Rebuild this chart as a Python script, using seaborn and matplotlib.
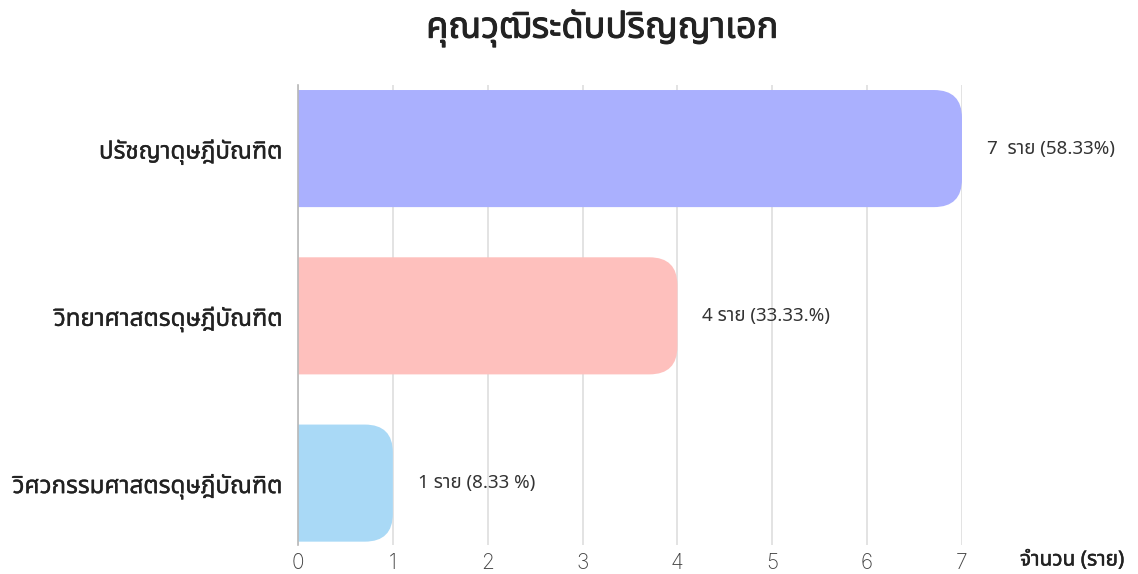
import matplotlib
matplotlib.use("Agg")
import matplotlib.pyplot as plt
from matplotlib import font_manager
from matplotlib.patches import FancyBboxPatch
import matplotlib.patheffects as pe
import seaborn as sns
import pandas as pd

# --- data -------------------------------------------------------------
categories = ["ปรัชญาดุษฎีบัณฑิต", "วิทยาศาสตรดุษฎีบัณฑิต", "วิศวกรรมศาสตรดุษฎีบัณฑิต"]
counts = [7, 4, 1]
value_labels = ["7  ราย (58.33%)", "4 ราย (33.33.%)", "1 ราย (8.33 %)"]
x_ticks = [0, 1, 2, 3, 4, 5, 6, 7]
title = "คุณวุฒิระดับปริญญาเอก"
x_label = "จำนวน (ราย)"
bar_colors = ["#aab0fe", "#fec0bd", "#a9d9f6"]


def thai_families():
    """Return installed family names that cover Thai script."""
    found = []
    try:
        from fontTools.ttLib import TTFont
    except Exception:
        return found
    for entry in font_manager.fontManager.ttflist:
        if entry.name in found:
            continue
        try:
            tt = TTFont(entry.fname, fontNumber=0, lazy=True)
            cmap = tt.getBestCmap() or {}
            if 0x0E01 in cmap and 0x0E34 in cmap:
                found.append(entry.name)
        except Exception:
            pass
    return found


sns.set_theme(style="white")
thai = thai_families()
pref = [f for f in ["Noto Sans Thai", "Noto Sans Thai UI", "Noto Sans Thai Looped"] if f in thai]
others = [f for f in thai if f not in pref]
families = pref + others + ["Inter", "DejaVu Sans"]
plt.rcParams["font.family"] = families

# faux-bold stroke for the heavier Thai text
def heavy(width, color="#222222"):
    return [pe.withStroke(linewidth=width, foreground=color)]

df = pd.DataFrame({"category": categories, "count": counts})

fig = plt.figure(figsize=(11.38, 5.74), dpi=100)
ax = fig.add_axes([298 / 1138, 1 - 545 / 574, (962 - 298) / 1138, (545 - 85) / 574])

sns.barplot(data=df, y="category", x="count", hue="category", palette=bar_colors,
            legend=False, width=0.70, orient="h", ax=ax, saturation=1)

ax.set_xlim(0, 7)
ax.set_ylim(2.37, -0.38)

# Rebuild each bar with rounded right-hand corners
fig_w, fig_h = fig.get_size_inches() * fig.dpi
pos = ax.get_position()
px_per_x = pos.width * fig_w / 7.0
px_per_y = pos.height * fig_h / (2.37 + 0.38)
radius_px = 28
rx = radius_px / px_per_x
aspect = px_per_x / px_per_y
for patch, color in zip(list(ax.patches), bar_colors):
    x0, y0 = patch.get_x(), patch.get_y()
    w, h = patch.get_width(), patch.get_height()
    patch.remove()
    rounded = FancyBboxPatch((x0 - rx, y0), w + rx, h,
                             boxstyle=f"round,pad=0,rounding_size={rx}",
                             mutation_aspect=aspect, facecolor=color,
                             edgecolor="none", zorder=2)
    ax.add_patch(rounded)

# grid and axis styling
ax.set_axisbelow(True)
ax.xaxis.grid(True, color="#dedede", linewidth=1.2)
ax.yaxis.grid(False)
for side in ["top", "right", "bottom"]:
    ax.spines[side].set_visible(False)
ax.spines["left"].set_color("#b8b8b8")
ax.spines["left"].set_linewidth(1.2)
ax.set_xticks(x_ticks)
ax.set_xticklabels([str(t) for t in x_ticks], fontsize=15, color="#444444",
                   family=["Inter", "DejaVu Sans"], fontweight="light")
ax.tick_params(axis="x", length=0, pad=6)
ax.tick_params(axis="y", length=0, pad=11)
for lbl in ax.get_yticklabels():
    lbl.set_fontsize(17.4)
    lbl.set_color("#222222")
    lbl.set_path_effects(heavy(0.25))
ax.set_xlabel("")
ax.set_ylabel("")

# value labels to the right of each bar
for i, (v, txt) in enumerate(zip(counts, value_labels)):
    ax.annotate(txt, xy=(v, i), xytext=(18, 0), textcoords="offset points",
                va="center", ha="left", fontsize=13.5, color="#333333",
                annotation_clip=False)

fig.text(1020 / 1138, 1 - 560 / 574, x_label, ha="left", va="center",
         fontsize=15, color="#222222", path_effects=heavy(0.35))
fig.text(602 / 1138, 1 - 28 / 574, title, ha="center", va="center",
         fontsize=26, color="#222222", path_effects=heavy(0.7))

fig.savefig("out.png", dpi=100)
